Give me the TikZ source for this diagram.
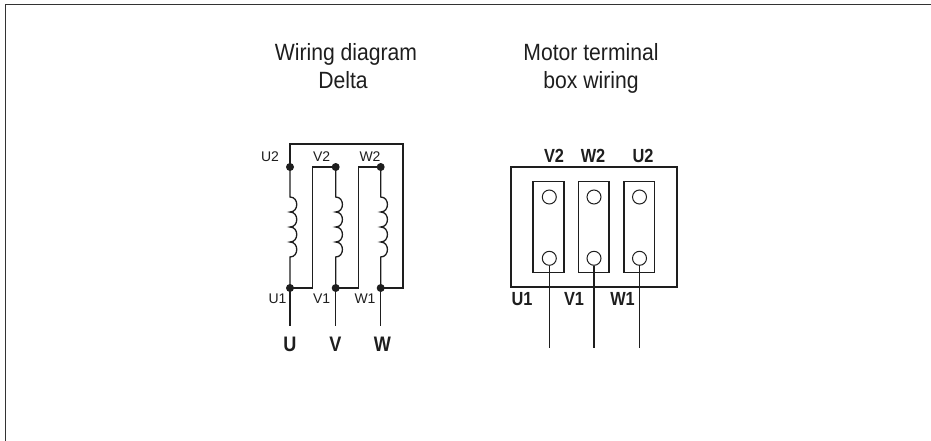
\documentclass[tikz,border=0pt]{standalone}
\usepackage{fontspec}
\setmainfont{Liberation Sans}
\newfontfamily\titlefont[FakeStretch=0.9]{Liberation Sans}
\newfontfamily\boldnar[FakeStretch=0.86]{Liberation Sans Bold}
\definecolor{ink}{HTML}{1E1E1E}
\definecolor{framec}{HTML}{333333}
\begin{document}
\begin{tikzpicture}[x=1pt,y=-1pt,
  wire/.style={draw=ink,line width=1.3pt},
  thin wire/.style={draw=ink,line width=1.1pt},
  dotnode/.style={circle,fill=ink,inner sep=0pt,minimum size=8pt},
  title/.style={font=\titlefont\fontsize{23.5}{28}\selectfont,text=ink,anchor=base,inner sep=0pt},
  small label/.style={font=\fontsize{14}{16}\selectfont,text=ink,anchor=base,inner sep=0pt},
  phase label/.style={font=\boldnar\fontsize{21}{24}\selectfont,text=ink,anchor=base,inner sep=0pt},
  box label/.style={font=\boldnar\fontsize{19}{22}\selectfont,text=ink,anchor=base,inner sep=0pt},
  strip/.style={draw=ink,line width=1.1pt},
  hole/.style={circle,draw=ink,line width=1pt,minimum size=14pt,inner sep=0pt}]
\useasboundingbox (0,0) rectangle (931,441);
% outer frame
\draw[framec,line width=1.5pt] (5.5,441) -- (5.5,4.5) -- (931,4.5);
% titles
\node[title] (t1) at (346,61) {Wiring diagram};
\node[title] (t2) at (343,89) {Delta};
\node[title] (t3) at (591,61) {Motor terminal};
\node[title] (t4) at (591,89) {box wiring};

% ---------- wiring diagram ----------
\node[dotnode] (U2) at (290,167) {};
\node[dotnode] (V2) at (335.7,167) {};
\node[dotnode] (W2) at (380.7,167) {};
\node[dotnode] (U1) at (290,288) {};
\node[dotnode] (V1) at (335.7,288) {};
\node[dotnode] (W1) at (380.7,288) {};
\coordinate (topL) at (290,144);
\coordinate (topR) at (403,144);
\coordinate (botR) at (403,288);
\coordinate (vl1) at (312.5,167);
\coordinate (vl2) at (312.5,288);
\coordinate (wl1) at (358.3,167);
\coordinate (wl2) at (358.3,288);
\coordinate (Uend) at (290,326);
\coordinate (Vend) at (335.7,326);
\coordinate (Wend) at (380.7,326);

% coils
\foreach \n/\x in {U/290,V/335.7,W/380.7}{
  \draw[wire] (\n2.center) -- (\x,197)
    .. controls (\x+9,197) and (\x+9,212) .. (\x,212)
    .. controls (\x+9,212) and (\x+9,227) .. (\x,227)
    .. controls (\x+9,227) and (\x+9,242) .. (\x,242)
    .. controls (\x+9,242) and (\x+9,257) .. (\x,257)
    -- (\n1.center);
}
% delta connections
\draw[wire] (U2.center) -- (topL) -- (topR) -- (botR) -- (W1.center);
\draw[wire] (V2.center) -- (vl1) -- (vl2) -- (U1.center);
\draw[wire] (W2.center) -- (wl1) -- (wl2) -- (V1.center);
% leads
\draw[wire] (U1.center) -- (Uend);
\draw[wire] (V1.center) -- (Vend);
\draw[wire] (W1.center) -- (Wend);
% labels
\node[small label] (lU2) at (270,161.7) {U2};
\node[small label] (lV2) at (321.7,161.7) {V2};
\node[small label] (lW2) at (370,161.7) {W2};
\node[small label] (lU1) at (277.5,303.3) {U1};
\node[small label] (lV1) at (321.7,303.3) {V1};
\node[small label] (lW1) at (365,303.3) {W1};
\node[phase label] (lU) at (290,351.7) {U};
\node[phase label] (lV) at (335.5,351.7) {V};
\node[phase label] (lW) at (382.5,351.7) {W};

% ---------- terminal box ----------
\draw[thin wire] (511,167) rectangle (677,287);
\foreach \i/\xl/\xr/\xc in {1/533/564/549.3,2/578.3/609/594,3/624/654.5/639.5}{
  \draw[strip] (\xl,181.7) rectangle (\xr,272.3);
  \node[hole] (ht\i) at (\xc,197) {};
  \node[hole] (hb\i) at (\xc,258.3) {};
  \coordinate (e\i) at (\xc,348);
  \draw[thin wire] (hb\i.south) -- (e\i);
}
\node[box label] (bV2) at (554,162.7) {V2};
\node[box label] (bW2) at (593,162.7) {W2};
\node[box label] (bU2) at (643,162.7) {U2};
\node[box label] (bU1) at (522,305) {U1};
\node[box label] (bV1) at (574,305) {V1};
\node[box label] (bW1) at (622.5,305) {W1};
\end{tikzpicture}
\end{document}
